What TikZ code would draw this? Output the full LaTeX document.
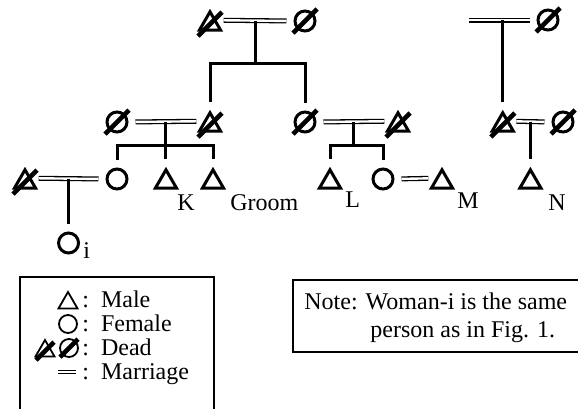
\documentclass[tikz,border=0pt]{standalone}
\usepackage{fontspec}
\setmainfont{Liberation Serif}
\usetikzlibrary{shapes.geometric}

\tikzset{
  person/.style={draw,line width=1.5pt,inner sep=0pt},
  male/.style={person,regular polygon,regular polygon sides=3,minimum size=12.2pt},
  female/.style={person,circle,minimum size=10pt},
  smallmale/.style={male,line width=0.9pt,minimum size=11pt},
  smallfemale/.style={female,line width=0.9pt,minimum size=9pt},
  slashline/.style={line width=2.3pt},
  dead/.style={append after command={([shift={(-#1,#1)}]\tikzlastnode.center) edge[slashline] ([shift={(#1,-#1)}]\tikzlastnode.center)}},
  dead/.default=12,
  marriage/.style={double,line width=0.65pt,double distance=1.2pt,shorten <=3.5pt,shorten >=3.5pt},
  kin/.style={line width=1.5pt},
  tag/.style={anchor=base west,inner sep=0pt},
}

\begin{document}
\begin{tikzpicture}[x=0.5pt,y=-0.5pt,font=\fontsize{12}{14}\selectfont]
        \useasboundingbox (0,0) rectangle (578,408);
        \clip (0,0) rectangle (578,408);

        % grandparents
        \node[male,dead] (gpa) at (210,24) {};
        \node[female,dead] (gma) at (305,21) {};
        \draw[marriage] (gpa.side 3) -- (gma.west) coordinate[pos=.5] (gpd);
        \coordinate (gpbar) at (gpd |- 0,63);

        % second row
        \node[female,dead] (wa) at (117,122) {};
        \node[male,dead] (fa) at (210,125) {};
        \node[female,dead] (au) at (305,122) {};
        \node[male,dead] (uh) at (398,125) {};
        \draw[kin] (gpd) -- (gpbar);
        \draw[kin,shorten <=4pt,shorten >=4pt] (fa) |- (gpbar) -| (au);

        \draw[marriage] (wa.east) -- (fa.side 1) coordinate[pos=.5] (ld);
        \draw[marriage] (au.east) -- (uh.side 1) coordinate[pos=.5] (rd);
        \coordinate (lbar) at (ld |- 0,145);
        \coordinate (rbar) at (rd |- 0,145);

        % third row
        \node[male,dead] (hu) at (25,182) {};
        \node[female] (wf) at (117,179) {};
        \node[male] (k) at (ld |- 0,182) {};
        \node[male] (gr) at (213,182) {};
        \node[male] (l) at (330,182) {};
        \node[female] (dl) at (383,179) {};
        \node[male] (m) at (442,182) {};

        \draw[kin,shorten >=4pt] (ld) -- (k);
        \draw[kin,shorten <=4pt,shorten >=4pt] (wf) |- (lbar) -| (gr);
        \draw[kin] (rd) -- (rbar);
        \draw[kin,shorten <=4pt,shorten >=4pt] (l) |- (rbar) -| (dl);
        \draw[marriage] (dl.east) -- (m.side 1);

        \draw[marriage] (hu.side 3) -- (wf.west) coordinate[pos=.5] (id);
        \node[female] (wi) at (id |- 0,243) {};
        \draw[kin,shorten >=4pt] (id) -- (wi);

        % right family
        \coordinate (ns) at (469,20);
        \node[female,dead] (nm) at (548,20) {};
        \draw[marriage,shorten <=0pt] (ns) -- (nm.west) coordinate[pos=.5] (nd);
        \node[male,dead] (nf) at (nd |- 0,125) {};
        \node[female,dead] (nw) at (563,122) {};
        \draw[kin,shorten >=4pt] (nd) -- (nf);
        \draw[marriage] (nf.side 3) -- (nw.west) coordinate[pos=.5] (nwd);
        \node[male] (n) at (nwd |- 0,182) {};
        \draw[kin,shorten >=4pt] (nwd) -- (n);

        % names
        \node[tag] (kname) at (177,210) {K};
        \node[tag] (grname) at (230,210) {Groom};
        \node[tag] (lname) at (345,207) {L};
        \node[tag] (mname) at (457,208) {M};
        \node[tag] (nname) at (548,210) {N};
        \node[tag] (iname) at (83,258) {i};

        % legend
        \draw[line width=0.6pt] (20,277) rectangle (214,420);
        \node[smallmale] (lgm) at (68,303) {};
        \node[smallfemale] (lgf) at (68,324) {};
        \node[smallmale,dead=9] (lgdm) at (45,351) {};
        \node[smallfemale,dead=9] (lgdf) at (69,348) {};
        \draw[double,line width=0.6pt,double distance=1.2pt] (58,372) -- (76,372);
        \node[tag] at (82,307) {:\enspace Male};
        \node[tag] at (82,331) {:\enspace Female};
        \node[tag] at (82,355) {:\enspace Dead};
        \node[tag] at (82,379) {:\enspace Marriage};

        % note
        \draw[line width=0.6pt] (293,280) rectangle (600,352);
        \node[tag] (note1) at (304,309) {Note: Woman-i is the same};
        \node[tag] (note2) at (370,337) {person as in Fig. 1.};
    \end{tikzpicture}
\end{document}
